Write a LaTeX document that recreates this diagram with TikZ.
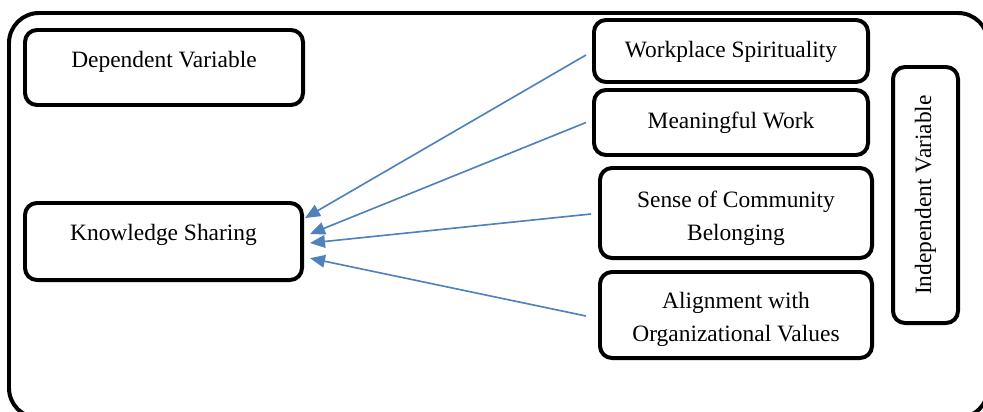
\documentclass[tikz,border=0pt]{standalone}
\usepackage{fontspec}
\setmainfont{Liberation Serif}
\usetikzlibrary{arrows.meta}

\definecolor{arrowblue}{RGB}{79,129,189}
\tikzset{
  varbox/.style={draw, line width=3.4pt, rounded corners=0.36cm, align=center,
                 font=\fontsize{20}{29}\selectfont, inner sep=0pt},
  link/.style={draw=arrowblue, line width=1.4pt, -{Triangle[length=0.45cm,width=0.38cm]}}
}
\newcommand{\boxtext}[2]{\raisebox{#1}[0pt][0pt]{\setlength{\tabcolsep}{0pt}\begin{tabular}[t]{c}#2\end{tabular}}}

\begin{document}
\begin{tikzpicture}[x=0.03cm, y=-0.03cm]
        \useasboundingbox (0,0) rectangle (983,411);                                   %
        \clip (0,0) rectangle (983,411);                                               %
        \draw [line width=3.4pt, rounded corners=0.9cm] (9,13) rectangle (988,418);      %frame

        \node [varbox, minimum width=8.34cm, minimum height=2.25cm] (dv)  at (164,67.5)    {\boxtext{0cm}{Dependent Variable}};
        \node [varbox, minimum width=8.31cm, minimum height=2.31cm] (ks)  at (163.5,241.5) {\boxtext{0.03cm}{Knowledge Sharing}};

        \node [varbox, minimum width=8.22cm, minimum height=1.86cm] (ws)  at (731,51)      {\boxtext{-0.18cm}{Workplace Spirituality}};
        \node [varbox, minimum width=8.22cm, minimum height=1.95cm] (mw)  at (731,122.5)   {\boxtext{-0.165cm}{Meaningful Work}};
        \node [varbox, minimum width=8.16cm, minimum height=2.70cm] (scb) at (736,213)     {\boxtext{0.18cm}{Sense of Community\\Belonging}};
        \node [varbox, minimum width=8.16cm, minimum height=2.58cm] (aov) at (736,315)     {\boxtext{0.21cm}{Alignment with\\Organizational Values}};
        \node [varbox, rotate=90, minimum width=7.68cm, minimum height=1.95cm] (iv) at (925.5,195) {Independent Variable};

        \draw [link] ([xshift=-0.18cm, yshift=-0.12cm]ws.west) -- ([xshift=0.03cm, yshift=0.705cm]ks.east);   %WS
        \draw [link] ([xshift=-0.18cm]mw.west)                 -- ([xshift=0.18cm, yshift=0.225cm]ks.east);   %MW
        \draw [link] ([xshift=-0.21cm, yshift=-0.03cm]scb.west) -- ([xshift=0.18cm, yshift=-0.045cm]ks.east); %SCB
        \draw [link] ([xshift=-0.36cm, yshift=-0.03cm]aov.west) -- ([xshift=0.18cm, yshift=-0.5cm]ks.east);   %AOV
      \end{tikzpicture}
\end{document}
